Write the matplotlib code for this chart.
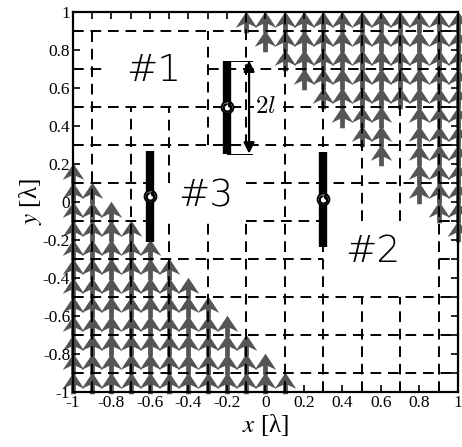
import numpy as np
import matplotlib
matplotlib.use("Agg")
import matplotlib.pyplot as plt
from matplotlib.path import Path

plt.rcParams['font.family'] = ['Liberation Serif', 'DejaVu Serif']
plt.rcParams['mathtext.fontset'] = 'stix'
plt.rcParams['axes.unicode_minus'] = False

# tick labels
tick_vals = [-1, -0.8, -0.6, -0.4, -0.2, 0, 0.2, 0.4, 0.6, 0.8, 1]
tick_text = ['-1', '-0.8', '-0.6', '-0.4', '-0.2', '0', '0.2', '0.4', '0.6', '0.8', '1']

# arrow field, lower-left block: column x and highest arrow tip in that column
bl_cols = [-1.0, -0.9, -0.8, -0.7, -0.6, -0.5, -0.4, -0.3, -0.2, -0.1, 0.0, 0.1]
bl_top = [0.2, 0.1, 0.0, -0.1, -0.2, -0.3, -0.4, -0.5, -0.6, -0.7, -0.8, -0.9]
bl_bottom = -0.9

# arrow field, upper-right block: column x and lowest arrow tip in that column
tr_cols = [-0.1, 0.0, 0.1, 0.2, 0.3, 0.4, 0.5, 0.6, 0.7, 0.8, 0.9, 1.0]
tr_low = [1.0, 0.9, 0.8, 0.7, 0.6, 0.5, 0.4, 0.3, 0.6, 0.1, 0.0, -0.1]
tr_top = 1.0

# dashed subdomain boundaries
h_lines = [(0.9, -1, 1), (0.7, -1, -0.83), (0.7, -0.3, 1), (0.5, -1, 1),
           (0.3, -1, 1), (0.1, -1, -0.6), (0.1, -0.1, 1),
           (-0.1, -1, -0.6), (-0.1, -0.1, 0.3), (-0.1, 0.9, 1),
           (-0.3, -1, 0.3), (-0.3, 0.9, 1), (-0.5, -1, 1),
           (-0.7, -1, 1), (-0.9, -1, 1)]
v_lines = [(-0.9, -1, 0.9), (-0.7, -1, 0.5), (-0.5, -1, -0.1), (-0.5, 0.1, 0.5),
           (-0.3, -1, -0.1), (-0.3, 0.3, 0.9), (-0.1, -1, -0.1), (-0.1, 0.3, 1),
           (0.1, -1, 1), (0.3, -1, 1), (0.5, -1, -0.5), (0.5, -0.1, 1),
           (0.7, -1, -0.5), (0.7, -0.1, 1), (0.9, -1, 1)]

# dipoles: x, centre y, half length
dip_x = [-0.2, 0.3, -0.6]
dip_y = [0.5, 0.015, 0.03]
dip_half = [0.245, 0.25, 0.24]

labels = ['#1', '#2', '#3']
label_x = [-0.58, 0.56, -0.31]
label_y = [0.69, -0.26, 0.03]

fig = plt.figure(figsize=(4.62, 4.47), dpi=100)
ax = fig.add_axes([0.158, 0.123, 0.833, 0.850])

# arrow glyph used as a marker (notched head with short stem)
arrow_glyph = Path([(0, 9), (9.0, -4.5), (2.0, -1.2), (2.0, -9), (-2.0, -9),
                    (-2.0, -1.2), (-9.0, -4.5), (0, 9)],
                   [Path.MOVETO] + [Path.LINETO] * 6 + [Path.CLOSEPOLY])

X, Y = [], []
for c, t in zip(bl_cols, bl_top):
    for tip in np.arange(bl_bottom, t + 1e-6, 0.1):
        X.append(c)
        Y.append(round(tip, 2) - 0.052)
for c, lo in zip(tr_cols, tr_low):
    for tip in np.arange(lo, tr_top + 1e-6, 0.1):
        X.append(c)
        Y.append(round(tip, 2) - 0.052)
ax.scatter(X, Y, marker=arrow_glyph, s=15.5 ** 2, color='#555555',
           linewidths=0, zorder=1, clip_on=False)

for y, x0, x1 in h_lines:
    ax.plot([x0, x1], [y, y], color='k', lw=1.4, dashes=(5.5, 3.5), zorder=2)
for x, y0, y1 in v_lines:
    ax.plot([x, x], [y0, y1], color='k', lw=1.4, dashes=(5.5, 3.5), zorder=2)

# dipoles
for x, yc, h in zip(dip_x, dip_y, dip_half):
    ax.plot([x, x], [yc - h, yc + h], color='k', lw=6, solid_capstyle='butt', zorder=4)
    ax.plot(x, yc, 'o', ms=8.5, mfc='white', mec='k', mew=1.4, zorder=5)
    ax.plot(x, yc, marker=r'$\circlearrowleft$', ms=6.5, color='k', zorder=6)

# 2l dimension
top = dip_y[0] + dip_half[0]
bot = dip_y[0] - dip_half[0]
ax.plot([-0.2, -0.07], [top, top], color='k', lw=0.7, zorder=4)
ax.plot([-0.2, -0.07], [bot, bot], color='k', lw=0.7, zorder=4)
ax.annotate('', xy=(-0.085, top), xytext=(-0.085, bot),
            arrowprops=dict(arrowstyle='<|-|>', lw=1.6, color='k',
                            mutation_scale=16, shrinkA=0, shrinkB=0), zorder=5)
ax.text(0.0, 0.5, r'$2l$', fontsize=18, ha='center', va='center', zorder=6,
        math_fontfamily='cm',
        bbox=dict(facecolor='white', edgecolor='none', pad=0.5))

for s, x, y in zip(labels, label_x, label_y):
    ax.text(x, y, s, fontsize=27, ha='center', va='center', family='DejaVu Sans',
            fontweight='light', zorder=6,
            bbox=dict(facecolor='white', edgecolor='none', pad=1))

ax.set_xlim(-1, 1)
ax.set_ylim(-1, 1)
ax.set_xticks(tick_vals)
ax.set_xticklabels(tick_text)
ax.set_yticks(tick_vals)
ax.set_yticklabels(tick_text)
ax.set_xticks(np.round(np.arange(-0.9, 1.0, 0.2), 2), minor=True)
ax.set_yticks(np.round(np.arange(-0.9, 1.0, 0.2), 2), minor=True)
ax.tick_params(which='both', direction='in', top=True, right=True,
               length=5, width=1.2, labelsize=12.5, pad=2)
for sp in ax.spines.values():
    sp.set_linewidth(1.6)
    sp.set_zorder(7)

ax.set_xlabel(r'$x$ [λ]', fontsize=18, labelpad=1)
ax.set_ylabel(r'$y$ [λ]', fontsize=18, labelpad=-1)

fig.savefig('out.png', dpi=100)
